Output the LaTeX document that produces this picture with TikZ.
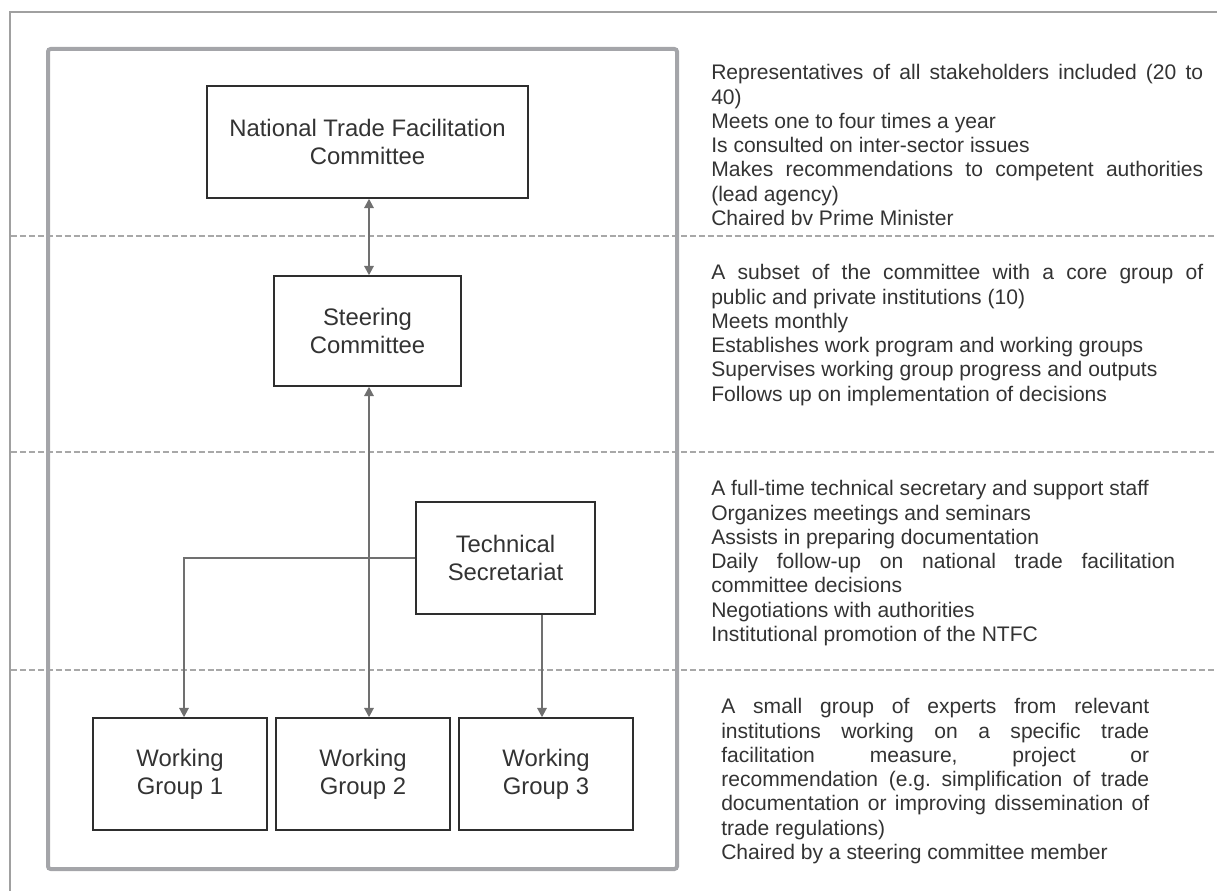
\documentclass[tikz,border=0pt]{standalone}
\usepackage{fontspec}
\setmainfont{Liberation Sans}
\usetikzlibrary{arrows.meta}
\frenchspacing
\definecolor{txt}{HTML}{333333}
\definecolor{boxc}{HTML}{2E2E2E}
\definecolor{arrc}{HTML}{707070}
\definecolor{framec}{HTML}{A0A0A0}
\definecolor{innerc}{HTML}{A4A5A9}
\definecolor{dashc}{HTML}{A8A8A8}
\newdimen\pxu \pxu=0.75pt
\tikzset{
  box/.style={draw=boxc, line width=1.1pt, fill=white, text=txt, align=center,
    font=\fontsize{17.9}{21}\selectfont, inner sep=0pt},
  desc/.style={anchor=north west, inner sep=0pt, text=txt, align=justify,
    font=\fontsize{15.8}{18.2}\selectfont\frenchspacing},
  conn/.style={draw=arrc, line width=1.5pt},
  tip/.style={-{Triangle[length=7pt,width=7pt]}},
  tips/.style={{Triangle[length=7pt,width=7pt]}-{Triangle[length=7pt,width=7pt]}},
  divider/.style={draw=dashc, line width=1.1pt, dash pattern=on 4.5pt off 2.2pt},
}
\begin{document}
\begin{tikzpicture}[x=0.75pt,y=-0.75pt]
\useasboundingbox (0,0) rectangle (1217,891);
% outer frame (top and left)
\draw[framec, line width=1.2pt] (10,891) -- (10,12) -- (1217,12);
% dashed dividers
\draw[divider] (11,236) -- (1217,236);
\draw[divider] (11,452) -- (1217,452);
\draw[divider] (11,670) -- (1217,670);
% inner thick frame
\draw[innerc, line width=3pt, rounded corners=2pt] (48,49) rectangle (677,869);
% boxes
\node[box, minimum width=321\pxu, minimum height=112\pxu] (ntfc) at (367.5,142) {National Trade Facilitation\\Committee};
\node[box, minimum width=187\pxu, minimum height=110\pxu] (steer) at (367.5,331) {Steering\\Committee};
\node[box, minimum width=179\pxu, minimum height=112\pxu] (ts) at (505.5,558) {Technical\\Secretariat};
\node[box, minimum width=174\pxu, minimum height=112\pxu] (wg1) at (180,774) {Working\\Group 1};
\node[box, minimum width=174\pxu, minimum height=112\pxu] (wg2) at (363,774) {Working\\Group 2};
\node[box, minimum width=174\pxu, minimum height=112\pxu] (wg3) at (546,774) {Working\\Group 3};
% connectors
\coordinate (c1) at ([xshift=4\pxu]wg1.north);
\coordinate (c2) at ([xshift=6\pxu]wg2.north);
\coordinate (c3) at ([xshift=-4\pxu]wg3.north);
\draw[conn, tips] ([xshift=1.5\pxu]ntfc.south) -- ([xshift=1.5\pxu]steer.north);
\draw[conn, tips] (steer.south -| c2) -- (c2);
\draw[conn, tip] (ts.west) -| (c1);
\draw[conn, tip] (ts.south -| c3) -- (c3);
% descriptions
\node[desc, text width=492\pxu] (d1) at (711,62.6) {\strut Representatives of all stakeholders included (20 to\linebreak 40)\\
Meets one to four times a year\\
Is consulted on inter-sector issues\\
Makes recommendations to competent authorities\linebreak (lead agency)\\
Chaired bv Prime Minister};
\node[desc, text width=492\pxu] (d2) at (711,262.6) {\strut A subset of the committee with a core group of\linebreak public and private institutions (10)\\
Meets monthly\\
Establishes work program and working groups\\
Supervises working group progress and outputs\\
Follows up on implementation of decisions};
\node[desc, text width=464\pxu] (d3) at (711,478.6) {\strut A full-time technical secretary and support staff\\
Organizes meetings and seminars\\
Assists in preparing documentation\\
Daily follow-up on national trade facilitation\linebreak committee decisions\\
Negotiations with authorities\\
Institutional promotion of the NTFC};
\node[desc, text width=428\pxu] (d4) at (721,696.6) {\strut A small group of experts from relevant\linebreak institutions working on a specific trade\linebreak facilitation measure, project or\linebreak recommendation (e.g. simplification of trade\linebreak documentation or improving dissemination of\linebreak trade regulations)\\
Chaired by a steering committee member};
\end{tikzpicture}
\end{document}
